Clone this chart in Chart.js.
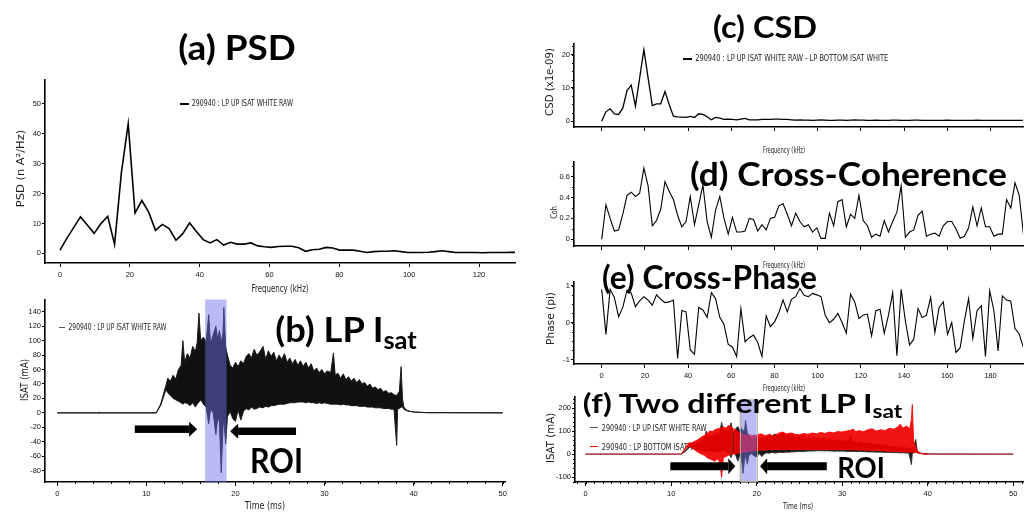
<!DOCTYPE html>
<html><head><meta charset="utf-8">
<script src="https://cdn.jsdelivr.net/npm/chart.js@4.4.1/dist/chart.umd.min.js"></script>
<style>
html,body{margin:0;padding:0;background:#fff;width:1030px;height:516px;overflow:hidden;position:relative;}
canvas{position:absolute;z-index:1;}
.t{position:absolute;left:0;top:0;white-space:nowrap;line-height:1;transform-origin:0 0;z-index:2;filter:grayscale(1);}
.ttl{font-family:Lato,'Open Sans',sans-serif;font-weight:700;color:#000;}
.ax{font-family:'DejaVu Sans',Verdana,sans-serif;color:#222;}
.lg{font-family:'DejaVu Sans Condensed','DejaVu Sans',sans-serif;color:#222;font-size:9px;z-index:0;}
.sub{font-size:70%;position:relative;top:0.3em;}
.ls{position:absolute;z-index:0;}
</style></head><body>

<canvas id="cA"></canvas><canvas id="cB"></canvas><canvas id="cC"></canvas>
<canvas id="cD"></canvas><canvas id="cE"></canvas><canvas id="cF"></canvas>

<!-- legends (below canvases) -->
<div class="ls" style="left:180px;top:102.5px;width:9px;height:2px;background:#000"></div>
<div class="t lg" data-cx="242.5" data-cy="103.5" data-w="101.6">290940 : LP UP ISAT WHITE RAW</div>
<div class="ls" style="left:59px;top:326.5px;width:6px;height:1px;background:#555"></div>
<div class="t lg" data-cx="117.5" data-cy="327" data-w="98.4">290940 : LP UP ISAT WHITE RAW</div>
<div class="ls" style="left:683px;top:57.5px;width:9px;height:2px;background:#000"></div>
<div class="t lg" data-cx="791.7" data-cy="58.5" data-w="193.3">290940 : LP UP ISAT WHITE RAW - LP BOTTOM ISAT WHITE</div>
<div class="ls" style="left:590px;top:427px;width:8px;height:1px;background:#555"></div>
<div class="t lg" data-cx="654.2" data-cy="428" data-w="105">290940 : LP UP ISAT WHITE RAW</div>
<div class="ls" style="left:590px;top:446px;width:8px;height:1px;background:#f00"></div>
<div class="t lg" data-cx="656.7" data-cy="447" data-w="110">290940 : LP BOTTOM ISAT WHITE</div>

<!-- axis titles -->
<div class="t ax" style="font-size:10px" data-cx="280" data-cy="289" data-w="57">Frequency (kHz)</div>
<div class="t ax" style="font-size:10px" data-cx="265" data-cy="506" data-w="40">Time (ms)</div>
<div class="t ax" style="font-size:9px" data-cx="784" data-cy="150.5" data-w="42">Frequency (kHz)</div>
<div class="t ax" style="font-size:9px" data-cx="784" data-cy="265" data-w="42">Frequency (kHz)</div>
<div class="t ax" style="font-size:9px" data-cx="784" data-cy="388" data-w="42">Frequency (kHz)</div>
<div class="t ax" style="font-size:9px" data-cx="798" data-cy="506.7" data-w="30">Time (ms)</div>
<div class="t ax" style="font-size:11px" data-cx="20" data-cy="168.5" data-w="77" data-rot="1">PSD (n A²/Hz)</div>
<div class="t ax" style="font-size:10px" data-cx="25" data-cy="380" data-w="42" data-rot="1">ISAT (mA)</div>
<div class="t ax" style="font-size:10px" data-cx="550" data-cy="82" data-w="68" data-rot="1">CSD (x1e-09)</div>
<div class="t ax" style="font-size:9px" data-cx="554" data-cy="212.5" data-w="13" data-rot="1">Coh</div>
<div class="t ax" style="font-size:10px" data-cx="551" data-cy="318.5" data-w="53" data-rot="1">Phase (pi)</div>
<div class="t ax" style="font-size:10px" data-cx="551" data-cy="438" data-w="50" data-rot="1">ISAT (mA)</div>

<!-- big titles -->
<div class="t ttl" style="font-size:35px" data-cx="237" data-cy="46" data-w="118">(a) PSD</div>
<div class="t ttl" style="font-size:35px" data-cx="346" data-cy="328" data-w="142">(b) LP I<span class="sub">sat</span></div>
<div class="t ttl" style="font-size:30px" data-cx="765" data-cy="26" data-w="104">(c) CSD</div>
<div class="t ttl" style="font-size:32px" data-cx="848.5" data-cy="173.5" data-w="317">(d) Cross-Coherence</div>
<div class="t ttl" style="font-size:32px" data-cx="709.5" data-cy="277" data-w="215">(e) Cross-Phase</div>
<div class="t ttl" style="font-size:26px" data-cx="742.5" data-cy="403" data-w="319">(f) Two different LP I<span class="sub">sat</span></div>
<div class="t ttl" style="font-size:35px" data-cx="276.5" data-cy="459.5" data-w="53">ROI</div>
<div class="t ttl" style="font-size:28px" data-cx="861" data-cy="467" data-w="48">ROI</div>

<script>
// ---------- data ----------
const FREQ_STEP = 1.953; // kHz per spectral bin
const psdValues = [1.1,5.0,8.6,12.2,9.5,6.7,10.0,12.4,3.0,27.0,43.4,13.5,17.7,13.8,7.7,9.7,8.3,4.4,6.6,10.2,
  7.3,4.6,3.5,4.6,2.8,3.7,3.1,3.1,3.5,2.5,2.2,2.0,2.3,2.4,2.4,1.9,0.7,1.2,1.4,2.0,
  1.8,1.1,1.1,1.1,0.7,0.3,0.6,0.7,0.7,0.9,0.6,0.3,0.3,0.3,0.4,0.6,0.9,0.6,0.3,0.3,
  0.3,0.3,0.2,0.3,0.3,0.3,0.4,0.3];
const csdValues = [0,2.8,3.7,2.2,2.0,3.9,9.2,10.8,4.5,13.0,21.5,13.0,4.7,5.2,5.2,8.9,5.0,1.5,1.3,1.2,
  1.1,1.4,1.1,2.2,2.0,1.3,0.4,1.1,0.9,0.5,0.6,0.5,0.4,0.6,0.8,0.4,0.4,0.4,0.5,0.5,
  0.5,0.6,0.6,0.5,0.5,0.4,0.3,0.4,0.3,0.3,0.2,0.3,0.4,0.3,0.2,0.2,0.3,0.3,0.2,0.3,
  0.4,0.3,0.3,0.2,0.2,0.3,0.2,0.2,0.2,0.3,0.3,0.2,0.2,0.2,0.3,0.3,0.2,0.2,0.2,0.2,
  0.2,0.2,0.3,0.2,0.2,0.2,0.2,0.2,0.2,0.3,0.2,0.2,0.2,0.2,0.2,0.2,0.2,0.2,0.2,0.2,0.2];
const cohValues = [0,0.33,0.20,0.08,0.09,0.24,0.42,0.45,0.41,0.44,0.68,0.51,0.13,0.18,0.29,0.55,0.46,0.38,0.23,0.12,
  0.17,0.41,0.14,0.33,0.52,0.17,0.02,0.28,0.41,0.20,0.05,0.21,0.07,0.07,0.08,0.20,0.19,0.08,0.14,0.09,
  0.20,0.21,0.32,0.34,0.24,0.13,0.25,0.17,0.12,0.14,0.07,0.11,0.01,0.01,0.25,0.13,0.36,0.38,0.12,0.24,
  0.20,0.42,0.18,0.13,0.02,0.05,0.03,0.18,0.07,0.17,0.26,0.51,0.02,0.07,0.09,0.23,0.27,0.03,0.05,0.06,
  0.03,0.13,0.17,0.17,0.10,0.01,0.03,0.11,0.31,0.13,0.30,0.12,0.12,0.03,0.05,0.05,0.38,0.30,0.54,0.42,0.05];
const phaseValues = [0.90,-0.32,0.90,0.68,0.16,0.41,0.88,0.80,0.43,0.59,0.70,0.61,0.47,0.75,0.63,0.54,0.56,0.61,-0.97,0.33,
  0.29,-0.74,-0.86,0.41,0.34,0.14,0.81,0.65,0.14,-0.05,-0.59,-0.66,-0.92,0.38,-0.52,-0.41,-0.34,-0.54,-0.92,0.18,
  -0.11,0.02,0.27,0.61,0.29,0.63,0.70,0.92,0.74,0.70,0.79,0.75,0.70,0.20,0.00,0.09,0.25,0.00,-0.29,0.77,
  0.56,0.11,0.20,0.23,-0.36,0.32,0.36,-0.29,0.20,0.81,-0.90,0.90,0.05,-0.61,-0.45,0.38,0.14,0.20,0.68,-0.27,
  0.41,0.56,-0.32,0.00,-0.81,-0.68,0.05,0.65,-0.43,0.32,0.45,-0.92,0.86,0.32,-0.77,0.72,0.61,0.58,-0.16,-0.31,-0.68];

// LP UP ISAT (ms, upper and lower edge of the signal, mA)
const upTime = [0,4.6,4.7,4.8,11.1,11.6,12.2,12.4,12.7,13.0,
  13.3,13.6,13.9,14.1,14.3,14.6,14.9,15.2,15.5,15.7,
  15.9,16.1,16.4,16.7,17.0,17.2,17.5,17.8,18.0,18.2,
  18.4,18.6,18.7,18.9,19.1,19.4,19.7,20.0,20.3,20.6,
  20.9,21.2,21.5,21.8,22.1,22.4,22.7,23.1,23.4,23.7,
  24.0,24.3,24.6,24.9,25.2,25.5,25.8,26.1,26.4,26.7,
  27.0,27.3,27.6,27.9,28.2,28.5,28.8,29.1,29.4,29.7,
  30.0,30.3,30.7,31.0,31.2,31.5,31.8,32.1,32.4,32.7,
  33.0,33.3,33.6,33.9,34.2,34.5,34.8,35.1,35.4,35.7,
  36.0,36.3,36.6,36.9,37.2,37.5,37.8,38.1,38.2,38.4,
  38.6,38.75,38.9,39.2,39.6,40.2,41.5,50];
const upHi = [0,0,1,0,0,12,38,48,44,52,
  47,60,66,100,70,82,76,92,85,97,
  138,100,105,98,136,96,108,120,102,114,
  98,110,146,92,80,66,62,70,64,72,
  68,78,82,76,88,80,84,92,74,86,
  78,84,72,80,74,82,70,76,68,74,
  66,72,64,70,62,68,58,62,56,60,
  54,58,56,83,52,55,48,54,46,50,
  44,48,42,46,40,42,37,40,34,36,
  32,34,29,31,27,28,25,24,26,30,
  64,20,8,4,2,1,0.3,0];
const upLo = [0,0,-1,0,0,10,32,28,24,20,
  18,16,14,12,14,13,10,14,8,12,
  15,18,12,8,-15,5,0,-30,-8,-12,
  -83,-20,-10,-43,-5,2,-8,-12,4,-10,
  2,6,4,8,5,6,8,7,9,8,
  10,10,11,12,12,12,13,14,14,14,
  15,15,15,14,15,14,14,13,14,13,
  14,13,12,12,12,12,11,12,11,11,
  10,10,10,9,9,9,8,8,8,7,
  7,7,6,6,6,5,5,-45,5,6,
  8,8,5,3,2,1,0.3,0];
// LP BOTTOM ISAT
const botTime = [0,11.2,11.7,12.1,12.4,12.7,13.0,13.3,13.6,13.9,
  14.2,14.5,14.8,15.1,15.4,15.7,15.9,16.1,16.4,16.7,
  17.0,17.3,17.6,17.9,18.2,18.5,18.8,19.1,19.4,19.7,
  20.0,20.5,21.0,21.5,22.0,22.5,23.0,23.5,24.0,24.5,
  25.0,25.5,26.0,26.5,27.0,27.5,28.0,28.5,29.0,29.5,
  30.0,30.5,31.0,31.3,31.6,32.0,32.5,33.0,33.5,34.0,
  34.5,35.0,35.5,36.0,36.5,36.8,37.1,37.5,37.9,38.1,
  38.2,38.35,38.6,38.9,39.3,40,50];
const botHi = [0,0,30,50,48,55,60,68,75,82,
  90,100,98,105,110,112,115,118,112,125,
  118,110,105,95,90,85,80,85,80,82,
  82,88,80,86,78,90,96,88,92,86,
  84,90,86,92,88,94,90,96,92,98,
  96,100,104,108,98,102,97,106,110,100,
  106,102,112,108,118,130,112,122,110,150,
  215,60,30,10,2,0,0];
const botLo = [0,0,25,35,28,20,12,5,0,-5,
  -15,-20,-25,-30,-20,-35,-100,-15,-10,-5,
  0,0,2,5,8,8,10,12,14,16,
  16,18,18,20,20,20,20,20,20,20,
  20,20,20,20,20,20,20,20,20,20,
  20,20,19,19,19,18,18,17,16,16,
  15,14,13,12,12,11,10,10,9,8,
  8,8,8,5,2,0,0];

const roiB = [16.6, 19.0];
const roiF = [18.0, 20.0];
const arrowsB = [[8.7, 15.7, -22.6], [26.8, 19.4, -25.5]];
const arrowsF = [[9.9, 17.5, -52.3], [28.2, 20.4, -52.3]];

const psdXTicks = [0,20,40,60,80,100,120];
const psdYTicks = [0,10,20,30,40,50];
const timeTicks = [0,10,20,30,40,50];
const isatBTicks = [-80,-60,-40,-20,0,20,40,60,80,100,120,140];
const freqTicks = [0,20,40,60,80,100,120,140,160,180];
const csdTicks = [0,10,20];
const cohTicks = [0,0.2,0.4,0.6];
const phaseTicks = [-1,0,1];
const isatFTicks = [-100,0,100,200];

// ---------- helpers ----------
const TICKFONT = "'Liberation Sans Narrow','Liberation Sans',Arial,sans-serif";
const spec = vals => vals.map((v,i)=>({x:i*FREQ_STEP, y:v}));
const pts = (xs, ys) => xs.map((x,i)=>({x, y:ys[i]}));

function axis(min, max, ticks, size, o={}) {
  return {
    type:'linear', min, max,
    afterBuildTicks: s => { s.ticks = ticks.map(v=>({value:v})); },
    afterFit: s => { if (s.isHorizontal()) s.height = size; else s.width = size; },
    grid:{drawOnChartArea:false, drawTicks:true, tickLength:o.tl||4, color:'#000', tickColor:'#000', lineWidth:1},
    border:{display:true, color:'#000', width:1.6},
    ticks:{color:'#111', font:{family:TICKFONT, size:7.5}, padding:o.pad==null?2:o.pad, maxRotation:0, autoSkip:false,
      callback: v => o.nolabel ? '' : String(v)}
  };
}
function minorPlugin(list) {
  return {id:'minor', afterDraw(chart){
    const ctx = chart.ctx; ctx.save(); ctx.strokeStyle='#000'; ctx.lineWidth=1;
    list.forEach(([id, step, len]) => {
      const s = chart.scales[id];
      for (let v = Math.ceil(s.min/step)*step; v <= s.max + 1e-9; v += step) {
        const p = Math.round(s.getPixelForValue(v)) + 0.5;
        ctx.beginPath();
        if (s.isHorizontal()) { ctx.moveTo(p, s.top); ctx.lineTo(p, s.top+len); }
        else { ctx.moveTo(s.right, p); ctx.lineTo(s.right-len, p); }
        ctx.stroke();
      }
    });
    ctx.restore();
  }};
}
function roiPlugin(range, topOff, edge) {
  return {id:'roi', afterDatasetsDraw(chart){
    const ctx = chart.ctx, x = chart.scales.x, a = chart.chartArea;
    const x1 = x.getPixelForValue(range[0]), x2 = x.getPixelForValue(range[1]);
    ctx.save();
    ctx.fillStyle = 'rgba(110,110,235,0.48)';
    ctx.fillRect(x1, a.top+topOff, x2-x1, a.bottom-a.top-topOff);
    if (edge) { ctx.strokeStyle='rgba(190,180,140,0.9)'; ctx.lineWidth=1;
      ctx.strokeRect(Math.round(x1)+0.5, a.top+topOff+0.5, Math.round(x2-x1), a.bottom-a.top-topOff-1); }
    ctx.restore();
  }};
}
function arrowPlugin(list, shaft, headL, headH) {
  return {id:'arrows', afterDraw(chart){
    const ctx = chart.ctx, x = chart.scales.x, y = chart.scales.y;
    ctx.save(); ctx.fillStyle='#000';
    list.forEach(([from, to, yv]) => {
      const x0 = x.getPixelForValue(from), x1 = x.getPixelForValue(to), yp = y.getPixelForValue(yv);
      const d = Math.sign(x1-x0), xb = x1 - d*headL;
      ctx.fillRect(Math.min(x0,xb), yp-shaft/2, Math.abs(xb-x0), shaft);
      ctx.beginPath(); ctx.moveTo(xb, yp-headH/2); ctx.lineTo(x1, yp); ctx.lineTo(xb, yp+headH/2); ctx.closePath(); ctx.fill();
    });
    ctx.restore();
  }};
}
function make(id, box, datasets, scales, plugins) {
  const {L,R,T,B,yw,xh,pt,pr} = box;
  const c = document.getElementById(id);
  const W = Math.round(yw + (R-L) + pr), H = Math.round(pt + (B-T) + xh);
  c.width = W; c.height = H;
  Object.assign(c.style, {left:(L-yw)+'px', top:(T-pt)+'px', width:W+'px', height:H+'px'});
  new Chart(c, {
    type:'line',
    data:{datasets},
    options:{
      responsive:false, animation:false, devicePixelRatio:1,
      layout:{padding:{left:0, top:pt, right:pr, bottom:0}},
      elements:{point:{radius:0}, line:{tension:0}},
      plugins:{legend:{display:false}, tooltip:{enabled:false}},
      scales
    },
    plugins
  });
}
const specLine = (vals, w) => ({data:spec(vals), borderColor:'#000', borderWidth:w, fill:false});
const pinkFlat = c => (c.p0.parsed.y === 0 && c.p1.parsed.y === 0) ? 'rgba(255,80,80,0.55)' : undefined;

// (a) PSD
make('cA', {L:45, R:515, T:78, B:263, yw:45, xh:22, pt:4, pr:6},
  [specLine(psdValues, 1.6)],
  {x: axis(-4.3, 130.3, psdXTicks, 22, {pad:3}), y: axis(-3.22, 58.2, psdYTicks, 45, {tl:3, pad:1})},
  []);

// (b) LP Isat
make('cB', {L:45, R:505, T:298, B:482, yw:45, xh:22, pt:4, pr:6},
  [{data:pts(upTime, upHi), borderColor:'#1a1a1a', borderWidth:1, fill:false},
   {data:pts(upTime, upLo), borderColor:'#1a1a1a', borderWidth:1, fill:'-1', backgroundColor:'#111'}],
  {x: axis(-1.38, 50.26, timeTicks, 22, {pad:3}), y: axis(-95.7, 156.9, isatBTicks, 45, {tl:3, pad:1})},
  [roiPlugin(roiB, 0, false), arrowPlugin(arrowsB, 7.5, 8, 15), minorPlugin([['x', 2, 2]])]);

// (c) CSD
make('cC', {L:574, R:1023, T:42, B:127, yw:30, xh:14, pt:4, pr:7},
  [specLine(csdValues, 1.3)],
  {x: axis(-12.83, 195.1, freqTicks, 14, {nolabel:true}), y: axis(-1.77, 23.35, csdTicks, 30, {tl:3, pad:1})},
  [minorPlugin([['y', 2.5, 2]])]);

// (d) Coherence
make('cD', {L:574, R:1023, T:160, B:246, yw:30, xh:14, pt:4, pr:7},
  [specLine(cohValues, 1.1)],
  {x: axis(-12.83, 195.1, freqTicks, 14, {nolabel:true}), y: axis(-0.063, 0.743, cohTicks, 30, {tl:3, pad:1})},
  [minorPlugin([['y', 0.1, 2]])]);

// (e) Phase
make('cE', {L:574, R:1023, T:280, B:364, yw:30, xh:20, pt:4, pr:7},
  [specLine(phaseValues, 1.1)],
  {x: axis(-12.83, 195.1, freqTicks, 20, {pad:3}), y: axis(-1.122, 1.112, phaseTicks, 30, {tl:3, pad:1})},
  [minorPlugin([['y', 0.25, 2]])]);

// (f) two Isat
make('cF', {L:575, R:1023, T:395, B:482, yw:31, xh:22, pt:4, pr:7},
  [{data:pts(botTime, botHi), borderColor:'rgba(255,0,0,0.9)', borderWidth:1, fill:false, segment:{borderColor:pinkFlat}},
   {data:pts(botTime, botLo), borderColor:'rgba(255,0,0,0.9)', borderWidth:1, fill:'-1', backgroundColor:'rgba(240,0,0,0.92)', segment:{borderColor:pinkFlat}},
   {data:pts(upTime, upHi), borderColor:'#333', borderWidth:1, fill:false},
   {data:pts(upTime, upLo), borderColor:'#333', borderWidth:1, fill:'-1', backgroundColor:'#1a1a1a'}],
  {x: axis(-1.25, 51.15, timeTicks, 22, {pad:3}), y: axis(-120.4, 249.8, isatFTicks, 31, {tl:3, pad:1})},
  [roiPlugin(roiF, 3, true), arrowPlugin(arrowsF, 8, 7, 16), minorPlugin([['x', 1, 2], ['y', 20, 2]])]);

// ---------- text placement ----------
document.querySelectorAll('.t').forEach(el => {
  const k = (+el.dataset.w) / el.offsetWidth;
  const rot = el.dataset.rot ? ' rotate(-90deg)' : '';
  el.style.transform = `translate(${el.dataset.cx}px, ${el.dataset.cy}px)${rot} scale(${k},1) translate(-50%,-50%)`;
});
</script>
</body></html>
